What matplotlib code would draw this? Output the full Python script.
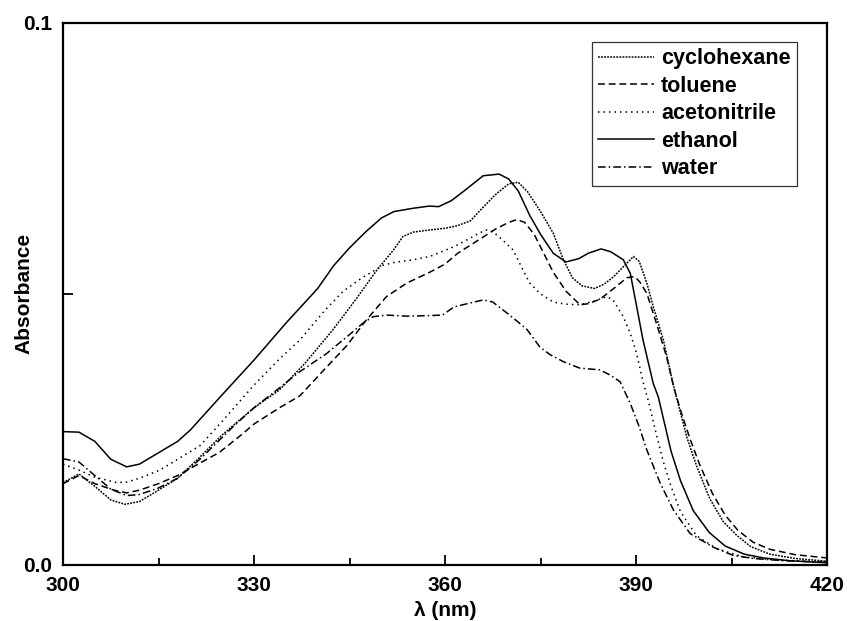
"""
Absorption spectra in five solvents.
"""

import numpy as np
import matplotlib
matplotlib.use("Agg")
import matplotlib.pyplot as plt
from matplotlib.ticker import FixedLocator

# wavelength (nm) / absorbance
cyclo_x = [300, 302.5, 305, 307.5, 309.7, 312, 315, 318, 321.5, 325, 330, 334, 338, 342.4, 346,
           349.3, 351.9, 353.4, 355, 357.6, 360, 362, 364, 366, 368, 370, 371.5, 373, 375, 377,
           378.6, 380, 381.5, 383.5, 385, 386.5, 388, 389.6, 390.5, 391.7, 392.7, 394.3, 395.9,
           398, 399.5, 401.6, 403.7, 405.8, 408, 411, 415, 420]
cyclo_y = [0.0152, 0.0168, 0.0145, 0.0120, 0.0112, 0.0117, 0.0138, 0.0160, 0.0199, 0.0240, 0.0290,
           0.0323, 0.0372, 0.0434, 0.0490, 0.0544, 0.0581, 0.0606, 0.0614, 0.0618, 0.0621, 0.0626,
           0.0635, 0.0660, 0.0684, 0.0703, 0.0706, 0.0688, 0.0652, 0.0612, 0.0563, 0.0530, 0.0515,
           0.0510, 0.0518, 0.0532, 0.0550, 0.0569, 0.0560, 0.0520, 0.0477, 0.0415, 0.0330, 0.0235,
           0.0183, 0.0122, 0.0080, 0.0055, 0.0034, 0.0020, 0.0012, 0.0007]

tol_x = [300, 302.5, 305, 308, 310, 312, 315, 318, 321.5, 324.6, 328, 330, 334, 337.2, 341, 344.6,
         347.5, 350.8, 354, 357.6, 360, 362, 364, 366, 368, 370, 371.3, 372.5, 374, 375.5, 377,
         379, 381.2, 382.5, 384.3, 386.5, 388.6, 389.8, 390.6, 391.7, 393.2, 394.8, 395.9, 397,
         398.5, 400, 402, 404, 406, 408.4, 411, 415, 420]
tol_y = [0.0150, 0.0165, 0.0150, 0.0138, 0.0133, 0.0138, 0.0150, 0.0165, 0.0188, 0.0208, 0.0240,
         0.0260, 0.0290, 0.0312, 0.0360, 0.0405, 0.0450, 0.0495, 0.0520, 0.0540, 0.0555, 0.0575,
         0.0590, 0.0605, 0.0620, 0.0632, 0.0637, 0.0632, 0.0610, 0.0575, 0.0540, 0.0505, 0.0480,
         0.0482, 0.0490, 0.0510, 0.0530, 0.0532, 0.0522, 0.0501, 0.0446, 0.0384, 0.0329, 0.0285,
         0.0232, 0.0185, 0.0132, 0.0092, 0.0064, 0.0042, 0.0029, 0.0019, 0.0013]

acn_x = [300, 302.5, 305, 308.4, 310, 312, 315.2, 318, 321.5, 325, 330, 334, 337.2, 341, 344, 347,
         350.3, 352, 355, 357.6, 359.5, 361.4, 363.5, 365.5, 366.6, 367.5, 369, 370.7, 372, 373.3,
         375, 377, 379, 381.2, 383.5, 385.4, 386.4, 388, 389.1, 390.1, 391.1, 392, 393, 394.3,
         395.5, 397, 399.5, 402.7, 406.8, 412, 420]
acn_y = [0.0186, 0.0175, 0.0162, 0.0152, 0.0153, 0.0160, 0.0175, 0.0195, 0.0220, 0.0265, 0.0332,
         0.0380, 0.0415, 0.0468, 0.0505, 0.0530, 0.0553, 0.0558, 0.0563, 0.0569, 0.0578, 0.0587,
         0.0600, 0.0613, 0.0618, 0.0615, 0.0600, 0.0581, 0.0550, 0.0520, 0.0500, 0.0485, 0.0481,
         0.0480, 0.0487, 0.0495, 0.0489, 0.0458, 0.0427, 0.0390, 0.0338, 0.0300, 0.0250, 0.0190,
         0.0145, 0.0098, 0.0054, 0.0030, 0.0015, 0.0009, 0.0006]

eth_x = [300, 302.5, 305, 307.5, 310, 312, 315, 318, 320, 325, 330, 335, 340, 342.5, 345, 347.5,
         350, 352, 355, 357.5, 359, 361, 363, 366, 368.5, 370, 371.5, 373.3, 375, 377, 379, 381,
         382.5, 384.5, 386, 388, 389.1, 390.1, 391.1, 392, 392.7, 393.5, 394.5, 395.5, 397, 399,
         401.5, 404, 407, 410, 414, 420]
eth_y = [0.0246, 0.0245, 0.0228, 0.0195, 0.0181, 0.0186, 0.0207, 0.0228, 0.0249, 0.0314, 0.0378,
         0.0446, 0.0510, 0.0552, 0.0585, 0.0614, 0.0640, 0.0652, 0.0658, 0.0662, 0.0661, 0.0672,
         0.0690, 0.0718, 0.0721, 0.0712, 0.0690, 0.0645, 0.0610, 0.0575, 0.0559, 0.0565, 0.0575,
         0.0583, 0.0578, 0.0563, 0.0538, 0.0477, 0.0415, 0.0370, 0.0335, 0.0310, 0.0260, 0.0210,
         0.0155, 0.0100, 0.0060, 0.0035, 0.0020, 0.0013, 0.0008, 0.0004]

water_x = [300, 302.5, 305, 307.5, 310, 312, 315, 318, 321.5, 326.7, 330, 333.6, 337, 341.4, 345,
           347.1, 348.7, 350.8, 354, 357.5, 359.6, 361.4, 363.5, 366, 367.5, 369.7, 371.5, 372.9,
           374.9, 376.5, 378.6, 381.2, 384.3, 386, 387.5, 389.1, 390.5, 391.7, 393.8, 395.9, 398.5,
           402.1, 405.2, 408.4, 413, 420]
water_y = [0.0196, 0.0190, 0.0165, 0.0140, 0.0128, 0.0130, 0.0142, 0.0160, 0.0195, 0.0255, 0.0290,
           0.0323, 0.0355, 0.0390, 0.0425, 0.0446, 0.0458, 0.0461, 0.0459, 0.0460, 0.0461, 0.0476,
           0.0482, 0.0489, 0.0485, 0.0465, 0.0448, 0.0434, 0.0402, 0.0388, 0.0375, 0.0363, 0.0360,
           0.0350, 0.0338, 0.0298, 0.0255, 0.0212, 0.0151, 0.0101, 0.0058, 0.0033, 0.0018, 0.0012,
           0.0008, 0.0005]

labels = ["cyclohexane", "toluene", "acetonitrile", "ethanol", "water"]

plt.rcParams['font.family'] = ['Liberation Sans', 'DejaVu Sans']
plt.rcParams['font.weight'] = 'bold'

fig = plt.figure(figsize=(8.47, 6.21), dpi=100)
ax = fig.add_axes([0.0744, 0.0902, 0.902, 0.873])

lw = 1.1
ax.plot(cyclo_x, cyclo_y, color='black', lw=lw, linestyle=(0, (1.2, 0.8)), label=labels[0])
ax.plot(tol_x, tol_y, color='black', lw=lw, linestyle=(0, (4.5, 2.5)), label=labels[1])
ax.plot(acn_x, acn_y, color='black', lw=lw, linestyle=(0, (1, 2.6)), label=labels[2])
ax.plot(eth_x, eth_y, color='black', lw=lw, linestyle='-', label=labels[3])
ax.plot(water_x, water_y, color='black', lw=lw, linestyle=(0, (5, 2, 1, 2)), label=labels[4])

ax.set_xlim(300, 420)
ax.set_ylim(0, 0.1)
ax.xaxis.set_major_locator(FixedLocator([300, 330, 360, 390, 420]))
ax.xaxis.set_minor_locator(FixedLocator([315, 345, 375, 405]))
ax.yaxis.set_major_locator(FixedLocator([0.0, 0.05, 0.1]))
ax.set_yticklabels(["0.0", "", "0.1"])
ax.set_xticklabels(["300", "330", "360", "390", "420"])

ax.tick_params(which='major', direction='in', length=7, width=1.3, labelsize=15)
ax.tick_params(which='minor', direction='in', length=5, width=1.3)
ax.tick_params(axis='x', pad=8)
ax.tick_params(axis='y', pad=8)
for s in ax.spines.values():
    s.set_linewidth(1.6)
for lab in ax.get_xticklabels() + ax.get_yticklabels():
    lab.set_fontweight('bold')

ax.set_xlabel("λ (nm)", fontsize=15, fontweight='bold')
ax.set_ylabel("Absorbance", fontsize=15, fontweight='bold')
ax.xaxis.set_label_coords(0.5, -0.066)
ax.yaxis.set_label_coords(-0.039, 0.5)

leg = ax.legend(loc='upper right', bbox_to_anchor=(0.9607, 0.965), fontsize=15.5,
                frameon=True, fancybox=False, handlelength=2.6, handletextpad=0.3,
                labelspacing=0.3, borderpad=0.3, borderaxespad=0)
leg.get_frame().set_edgecolor('black')
leg.get_frame().set_linewidth(0.9)
for t in leg.get_texts():
    t.set_fontweight('bold')

fig.savefig("out.png", dpi=100)
